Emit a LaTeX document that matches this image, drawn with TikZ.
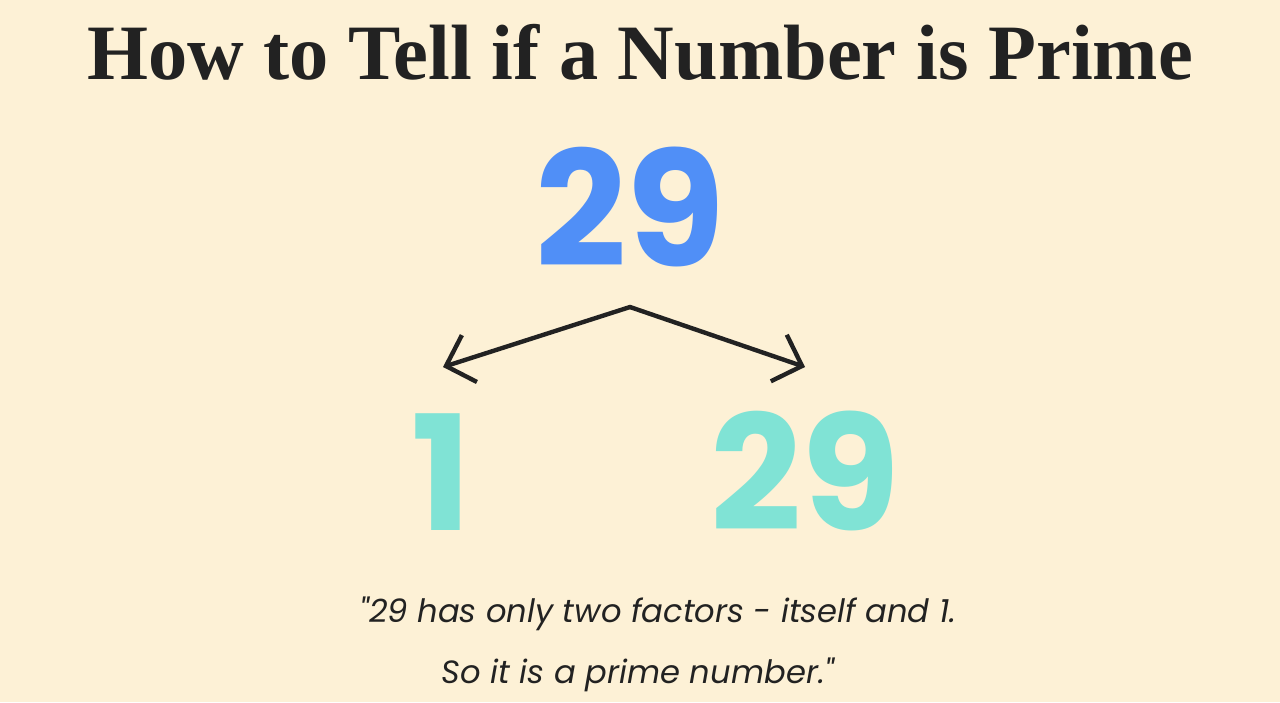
\documentclass[tikz,border=0pt]{standalone}
\usepackage{fontspec}
\setmainfont{Liberation Serif}
\newfontfamily\numfont{Poppins}
\usetikzlibrary{arrows.meta}
\definecolor{papir}{HTML}{FDF1D6}
\definecolor{kek}{HTML}{508FF7}
\definecolor{turkiz}{HTML}{80E3D5}
\definecolor{sotet}{HTML}{222222}
\begin{document}
\begin{tikzpicture}[x=0.01cm,y=-0.01cm]
	%háttér
	\fill [papir] (0,0) rectangle (1280,702);
	\useasboundingbox (0,0) rectangle (1280,702);
	%cím
	\node (title) [sotet, font=\fontsize{22.3}{24}\selectfont\bfseries, anchor=base] at (640,79) {How to Tell if a Number is Prime};
	%számok
	\node (top) [kek, font=\fontsize{45.5}{50}\numfont\bfseries, anchor=base] at (630,266) {29};
	\node (one) [turkiz, font=\fontsize{45.5}{50}\numfont\bfseries, anchor=base] at (442,530) {1};
	\node (right) [turkiz, font=\fontsize{45.5}{50}\numfont\bfseries, anchor=base] at (805,530) {29};
	%nyilak
	\coordinate (apex) at (630,307);
	\coordinate (tipL) at (443,367);
	\coordinate (tipR) at (805,367);
	\draw [sotet, line width=1.25pt, line cap=round, -{Straight Barb[length=7pt,width=14pt]}] (apex) -- (tipL);
	\draw [sotet, line width=1.25pt, line cap=round, -{Straight Barb[length=7pt,width=14pt]}] (apex) -- (tipR);
	%idézet
	\node (quoteA) [sotet, font=\fontsize{9.15}{11}\numfont\itshape, anchor=base] at (658,622) {"29 has only two factors - itself and 1.};
	\node (quoteB) [sotet, font=\fontsize{9.15}{11}\numfont\itshape, anchor=base] at (638,683) {So it is a prime number."};
\end{tikzpicture}
\end{document}
